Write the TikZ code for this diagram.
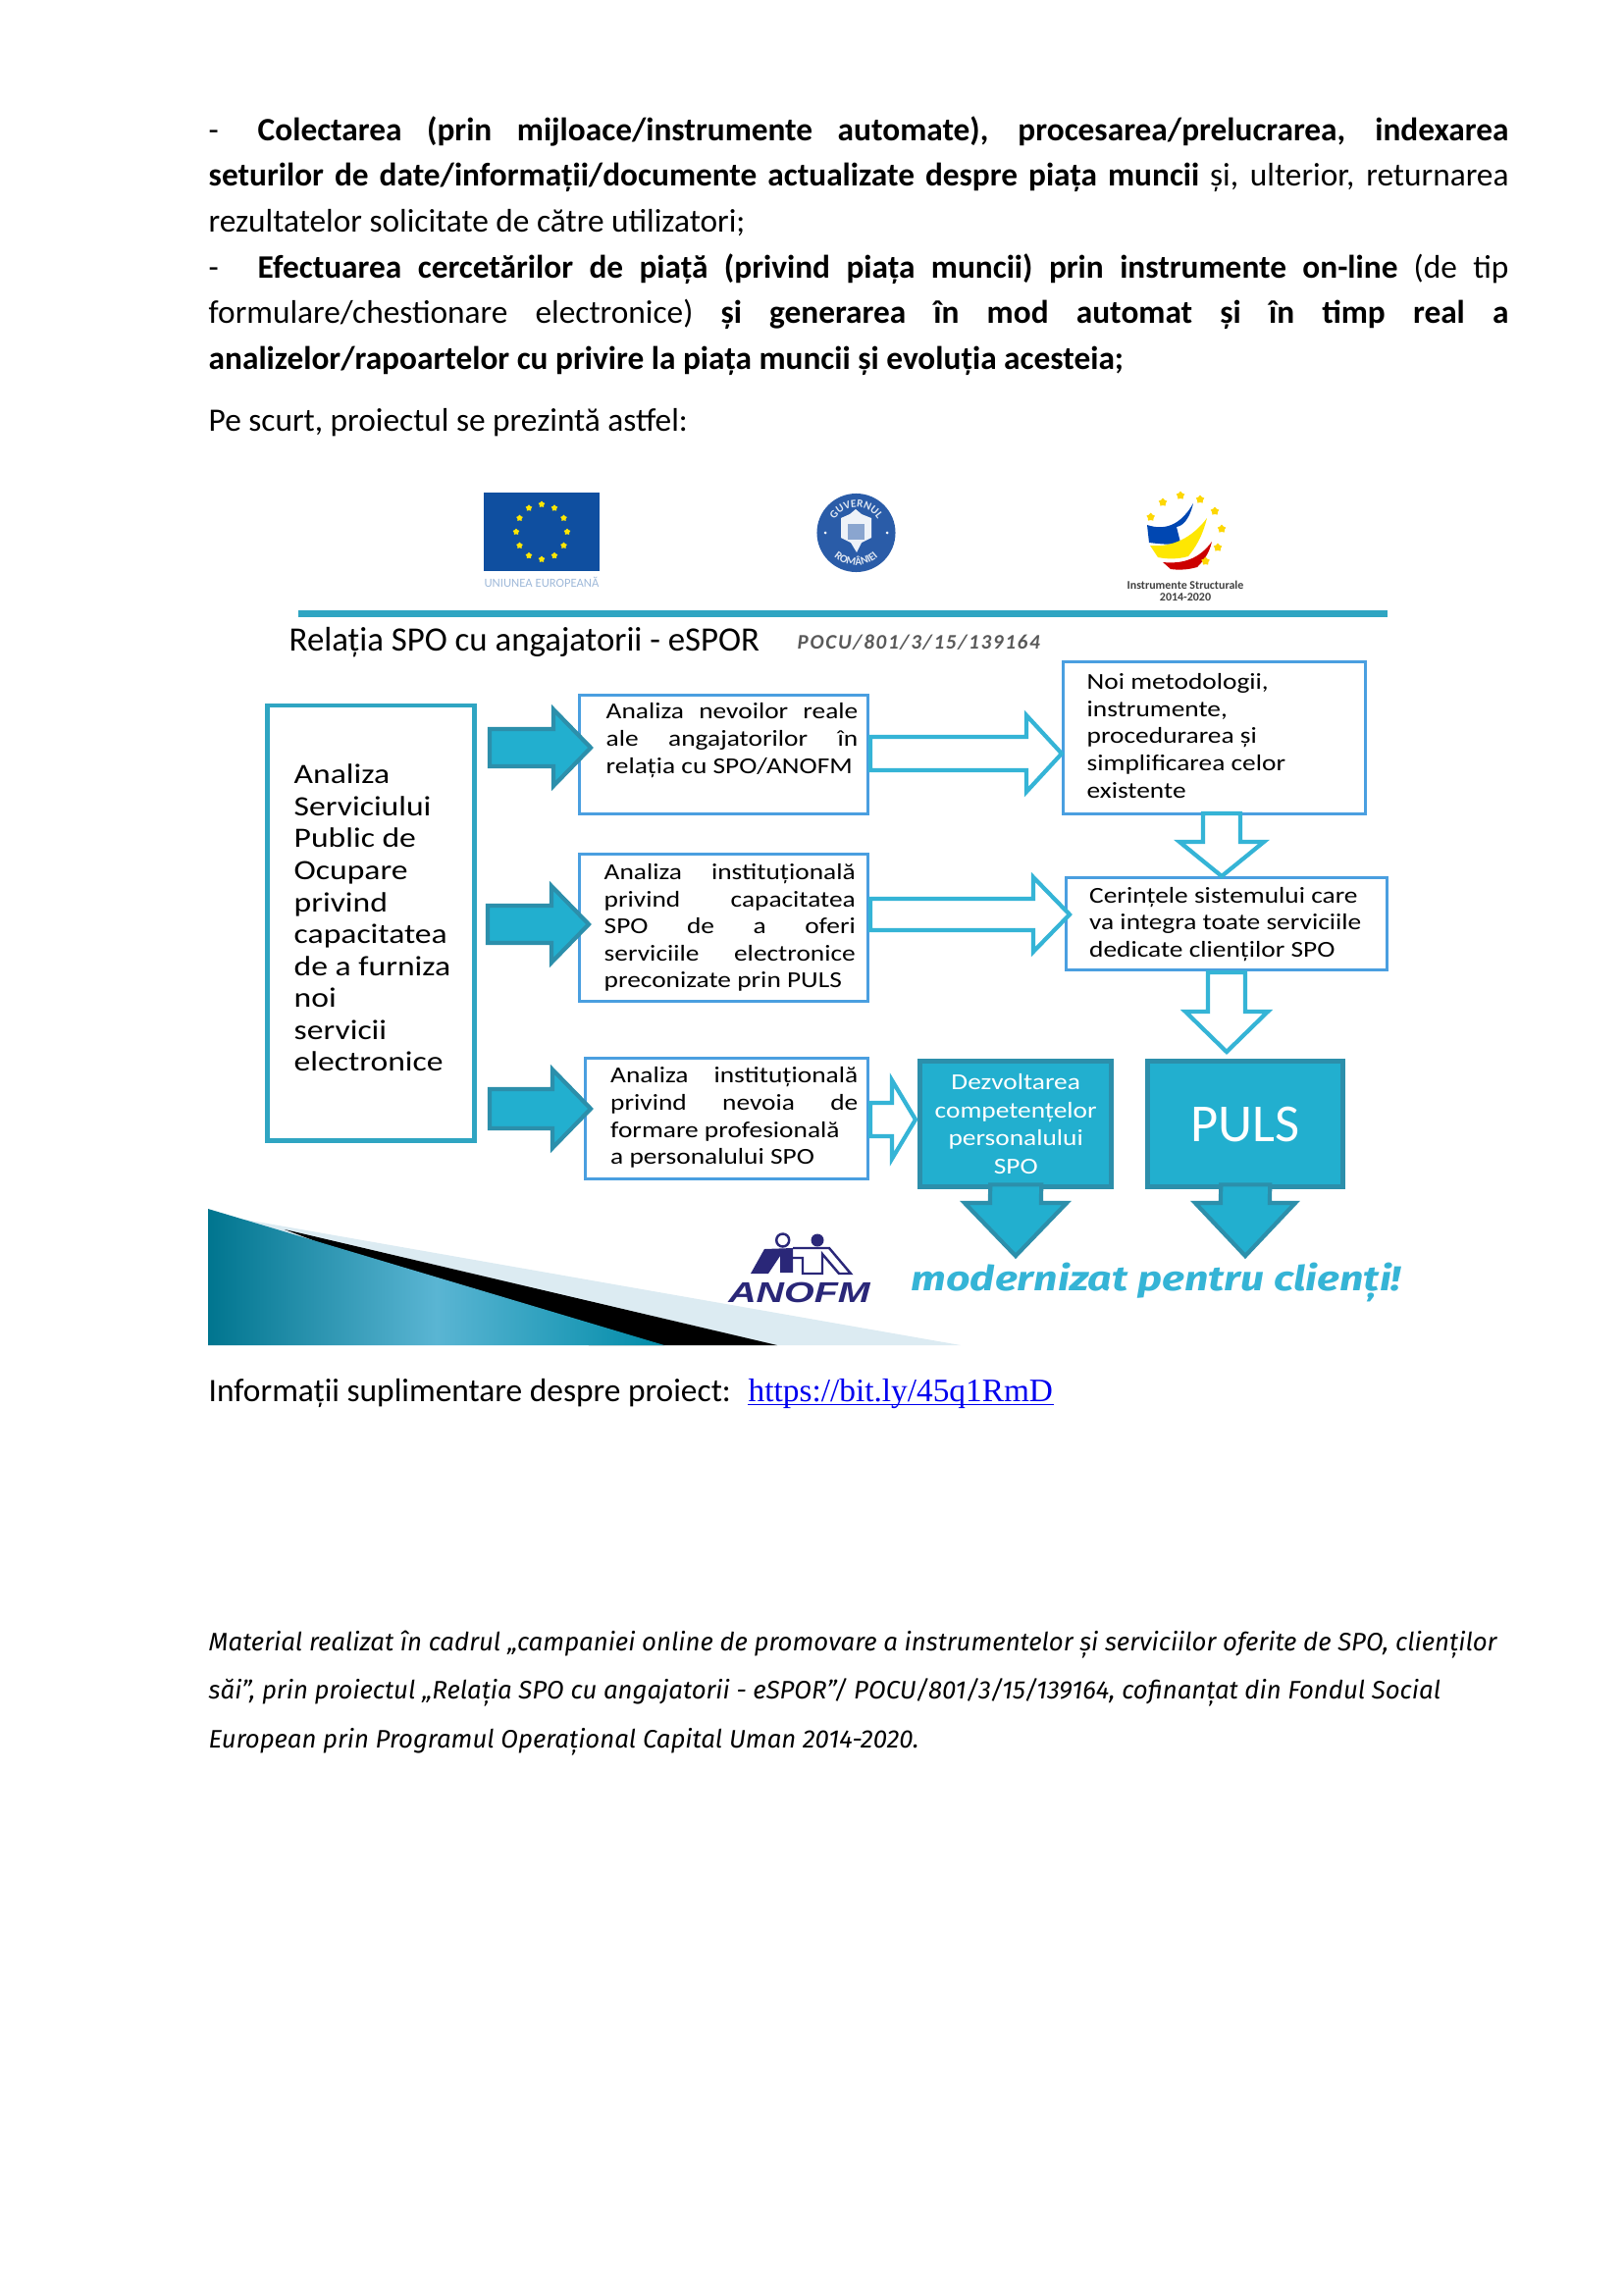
\documentclass[tikz,border=0pt]{standalone}
\usepackage{fontspec}
\setmainfont{Carlito}
\newfontfamily\widefont[FakeStretch=1.18]{Carlito}
\newfontfamily\linkfont{Liberation Serif}
\newfontfamily\logofont{Liberation Sans}
\newfontfamily\footfont{Fira Sans}
\newfontfamily\sloganfont[FakeStretch=1.22]{Fira Sans}
\usetikzlibrary{calc,shapes.geometric,decorations.text}

\definecolor{ruleteal}{HTML}{2FA5C2}
\definecolor{fillteal}{HTML}{22AFCF}
\definecolor{edgeteal}{HTML}{2C8FAB}
\definecolor{hollowteal}{HTML}{35B4D6}
\definecolor{boxblue}{HTML}{4A9FE0}
\definecolor{eublue}{HTML}{0F4FA0}
\definecolor{sealblue}{HTML}{2A5CA8}
\definecolor{anofmblue}{HTML}{2A2778}
\definecolor{paleblue}{HTML}{DCEBF2}
\definecolor{linkblue}{HTML}{0000EE}
\definecolor{gradleft}{HTML}{00758F}
\definecolor{gradmid}{HTML}{5AB5D3}
\definecolor{gradright}{HTML}{008BA8}

\tikzset{
  bodytext/.style={inner sep=0pt, anchor=north west, font=\fontsize{9.48}{13.23}\selectfont},
  thinbox/.style={draw=boxblue, line width=0.85pt, fill=white, inner sep=0pt, anchor=north west},
  boxtext/.style={inner sep=0pt, anchor=west, align=justify, font=\widefont\fontsize{6.6}{7.85}\selectfont},
  solidbox/.style={draw=edgeteal, line width=1.5pt, fill=fillteal, text=white, inner sep=0pt, anchor=north west, align=center},
  solidarrow/.style={draw=edgeteal, line width=1.2pt, fill=fillteal, line join=miter},
  hollowarrow/.style={draw=hollowteal, line width=1.2pt, fill=white, line join=miter},
  eustar/.style={star, star points=5, fill=yellow!90!orange, inner sep=0pt, minimum size=0.07cm},
  logostar/.style={star, star points=5, fill=yellow!75!orange, inner sep=0pt, minimum size=0.09cm}
}

% sageata orizontala / verticala: stil, coada, varf, jumatate corp, jumatate cap, lungime cap
\newcommand{\blockh}[6]{\draw[#1] ($(#2)+(0,-#4)$) -- ($(#3)+(-#6,-#4)$) -- ($(#3)+(-#6,-#5)$) -- (#3)
  -- ($(#3)+(-#6,#5)$) -- ($(#3)+(-#6,#4)$) -- ($(#2)+(0,#4)$) -- cycle;}
\newcommand{\blockv}[6]{\draw[#1] ($(#2)+(-#4,0)$) -- ($(#3)+(-#4,-#6)$) -- ($(#3)+(-#5,-#6)$) -- (#3)
  -- ($(#3)+(#5,-#6)$) -- ($(#3)+(#4,-#6)$) -- ($(#2)+(#4,0)$) -- cycle;}

\begin{document}
\begin{tikzpicture}[x=0.01cm, y=-0.01cm]
    \useasboundingbox (0,0) rectangle (1654,2339);

    % 1. Textul de sus
    \node[bodytext, text width=13.24cm, align=justify] (intro) at (212,118) {%
      \makebox[0.5cm][l]{-}\textbf{Colectarea (prin mijloace/instrumente automate), procesarea/prelucrarea, indexarea}\linebreak
      \textbf{seturilor de date/informații/documente actualizate despre piața muncii} și, ulterior, returnarea\linebreak
      rezultatelor solicitate de către utilizatori;\\
      \makebox[0.5cm][l]{-}\textbf{Efectuarea cercetărilor de piață (privind piața muncii) prin instrumente on-line} (de tip\linebreak
      formulare/chestionare electronice) \textbf{și generarea în mod automat și în timp real a}\linebreak
      \textbf{analizelor/rapoartelor cu privire la piața muncii și evoluția acesteia;}};
    \node[bodytext] (pescurt) at (212,416) {Pe scurt, proiectul se prezintă astfel:};

    % 2. Logo-uri
    \node[fill=eublue, inner sep=0pt, minimum width=1.18cm, minimum height=0.8cm] (flag) at (552,542) {};
    \foreach \i in {1,...,12}
        \node[eustar] (flagstar\i) at ($(flag)+(\i*30:26 and 28)$) {};
    \node[inner sep=0pt, text=eublue!40, font=\fontsize{3.6}{4}\selectfont] (eulabel) at (552,593) {UNIUNEA EUROPEANĂ};

    \node[circle, fill=sealblue, inner sep=0pt, minimum size=0.8cm] (seal) at (872.5,543) {};
    \path[decorate, decoration={text along path, text align=center, text color=white!85!sealblue,
        text={|\bfseries\fontsize{3.2}{3.4}\selectfont|GUVERNUL}}] ($(seal)+(-26,0)$) arc (180:360:26);
    \path[decorate, decoration={text along path, text align=center, text color=white!85!sealblue,
        text={|\bfseries\fontsize{3.2}{3.4}\selectfont|ROMÂNIEI}}] ($(seal)+(-33,0)$) arc (180:0:33);
    \fill[white!92!sealblue] (857,528) -- (866,524) -- (872,519) -- (878,524) -- (888,528) -- (888,548)
        -- (878,553) -- (873,563) -- (867,553) -- (857,548) -- cycle;
    \fill[sealblue!55] (864,534) rectangle (881,550);
    \fill[white] (841,543) circle (1.5) (904,543) circle (1.5);

    \fill[blue!60!cyan!70!black] (1169,535) .. controls (1190,542) and (1205,532) .. (1216,513)
        .. controls (1212,530) and (1205,536) .. (1199,537) -- (1203,553) .. controls (1192,556) and (1180,554) .. (1171,553) -- cycle;
    \fill[yellow!90!orange] (1172,556) .. controls (1195,558) and (1215,548) .. (1230,528)
        .. controls (1225,548) and (1218,558) .. (1211,567) .. controls (1200,570) and (1190,570) .. (1180,568) -- cycle;
    \fill[red!80!black] (1185,573) .. controls (1205,575) and (1222,570) .. (1235,552)
        .. controls (1232,565) and (1226,572) .. (1220,578) .. controls (1210,581) and (1200,581) .. (1193,580) -- cycle;
    \foreach \i/\sx/\sy in {1/1172.7/527, 2/1185/512, 3/1203/505, 4/1223/509, 5/1238/521, 6/1245/539, 7/1241/558, 8/1228.5/572}
        \node[logostar] (logostar\i) at (\sx,\sy) {};
    \node[inner sep=0pt, align=center, text=black!75, font=\bfseries\fontsize{3.4}{3.5}\selectfont] (islabel) at (1208,602) {Instrumente Structurale\\2014-2020};

    % 3. Linia si titlul
    \fill[ruleteal] (304,622) rectangle (1414,629);
    \node[inner sep=0pt, anchor=west, font=\fontsize{9.9}{11}\selectfont] (title) at (294,655) {Relația SPO cu angajatorii - eSPOR};
    \node[inner sep=0pt, anchor=west, text=black!65, font=\bfseries\itshape\fontsize{6}{7}\selectfont] (pocu) at (812,655) {\addfontfeature{LetterSpace=8}POCU/801/3/15/139164};

    % 4. Casetele
    \node[draw=ruleteal, line width=1.4pt, fill=white, inner sep=0pt, anchor=north west, minimum width=2.11cm, minimum height=4.435cm] (spobox) at (270,716.5) {};
    \node[inner sep=0pt, anchor=west, align=left, font=\widefont\fontsize{8.1}{9.25}\selectfont] (spotext) at (299,935.5) {Analiza\\Serviciului\\Public de\\Ocupare\\privind\\capacitatea\\de a furniza\\noi\\servicii\\electronice};

    \node[thinbox, minimum width=2.94cm, minimum height=1.21cm] (needbox) at (589,707) {};
    \node[boxtext, text width=2.565cm] (needtext) at (617,754.5) {Analiza nevoilor reale\linebreak ale angajatorilor în\linebreak relația cu SPO/ANOFM};
    \node[thinbox, minimum width=2.94cm, minimum height=1.50cm] (instbox) at (589,869) {};
    \node[boxtext, text width=2.56cm] (insttext) at (615,945.5) {Analiza instituțională\linebreak privind capacitatea\linebreak SPO de a oferi\linebreak serviciile electronice\linebreak preconizate prin PULS};
    \node[thinbox, minimum width=2.88cm, minimum height=1.23cm] (trainbox) at (595,1077) {};
    \node[boxtext, text width=2.52cm] (traintext) at (621.5,1139) {Analiza instituțională\linebreak privind nevoia de\linebreak formare profesională\\a personalului SPO};
    \node[thinbox, minimum width=3.08cm, minimum height=1.55cm] (methodbox) at (1082,673) {};
    \node[boxtext, align=left] (methodtext) at (1107,750) {Noi metodologii,\\instrumente,\\procedurarea și\\simplificarea celor\\existente};
    \node[thinbox, minimum width=3.27cm, minimum height=0.94cm] (reqbox) at (1085,893) {};
    \node[boxtext, align=left] (reqtext) at (1109.5,942) {Cerințele sistemului care\\va integra toate serviciile\\dedicate clienților SPO};

    \node[solidbox, minimum width=1.95cm, minimum height=1.28cm, font=\widefont\fontsize{6.6}{8.1}\selectfont] (devbox) at (935,1079) {Dezvoltarea\\competențelor\\personalului\\SPO};
    \node[solidbox, minimum width=1.99cm, minimum height=1.28cm, font=\fontsize{15.5}{16}\selectfont] (pulsbox) at (1167,1079) {PULS};

    % 5. Sagetile
    \coordinate (arrowAtail) at (499,762);   \coordinate (arrowAtip) at (602,762);
    \coordinate (arrowBtail) at (497,942);   \coordinate (arrowBtip) at (600,942);
    \coordinate (arrowCtail) at (499,1130);  \coordinate (arrowCtip) at (602,1130);
    \blockh{solidarrow}{arrowAtail}{arrowAtip}{19}{39}{38}
    \blockh{solidarrow}{arrowBtail}{arrowBtip}{19}{39}{38}
    \blockh{solidarrow}{arrowCtail}{arrowCtip}{20}{40}{39}

    \coordinate (hollowAtail) at (887,768);  \coordinate (hollowAtip) at (1082,768);
    \coordinate (hollowBtail) at (887,932);  \coordinate (hollowBtip) at (1090,932);
    \coordinate (hollowCtail) at (887,1141); \coordinate (hollowCtip) at (933,1141);
    \blockh{hollowarrow}{hollowAtail}{hollowAtip}{17}{39}{36}
    \blockh{hollowarrow}{hollowBtail}{hollowBtip}{16}{38}{37}
    \blockh{hollowarrow}{hollowCtail}{hollowCtip}{17}{40}{24}

    \coordinate (downAtop) at (1245,829);    \coordinate (downAtip) at (1245,893);
    \coordinate (downBtop) at (1250,991);    \coordinate (downBtip) at (1250,1072);
    \blockv{hollowarrow}{downAtop}{downAtip}{19}{43}{35}
    \blockv{hollowarrow}{downBtop}{downBtip}{19}{42}{41}

    \coordinate (devtip) at (1035,1280);
    \coordinate (pulstip) at (1269,1280);
    \blockv{solidarrow}{$(devbox.south)+(0,-5)$}{devtip}{26}{52}{54}
    \blockv{solidarrow}{$(pulsbox.south)+(0,-5)$}{pulstip}{25}{51}{54}

    % 6. Triunghiurile de jos
    \fill[paleblue] (250,1243) -- (979,1371) -- (212,1371) -- cycle;
    \fill[black] (290,1253) -- (792,1371) -- (600,1371) -- cycle;
    \shade[left color=gradleft, right color=gradright, middle color=gradmid]
        (212,1232) -- (677,1371) -- (212,1371) -- cycle;

    % 7. Logo ANOFM si slogan
    \draw[anofmblue, line width=0.7pt] (797.7,1264) circle (6.5);
    \fill[anofmblue] (833,1264) circle (6.5);
    \fill[anofmblue] (765,1298) -- (779,1273) -- (808,1272) -- (808,1297) -- (795,1297) -- (795,1280) -- (783,1298) -- cycle;
    \draw[anofmblue, line width=0.7pt] (808,1272) -- (845,1272) -- (867,1298) -- (855,1298) -- (838,1278) -- (838,1298) -- (818,1298) -- (818,1282) -- (808,1282);
    \node[inner sep=0pt, text=anofmblue, font=\logofont\bfseries\itshape\fontsize{8.3}{9}\selectfont] (anofm) at (814.5,1317.5) {\scalebox{1.35}[1]{ANOFM}};
    \node[inner sep=0pt, anchor=west, text=hollowteal, font=\sloganfont\bfseries\itshape\fontsize{10}{11}\selectfont] (slogan) at (928,1307) {modernizat pentru clienți!};

    % 8. Linkul si nota
    \node[inner sep=0pt, anchor=base west, font=\fontsize{9.5}{13}\selectfont] (moreinfo) at (212,1428) {Informații suplimentare despre proiect:};
    \node[inner sep=0pt, anchor=base west, text=linkblue, font=\linkfont\fontsize{9.48}{13}\selectfont] (link) at (762,1428) {https://bit.ly/45q1RmD};
    \draw[linkblue, line width=0.5pt] ($(link.base west)+(0,3.5)$) -- ($(link.base east)+(0,3.5)$);
    \node[inner sep=0pt, anchor=north west, align=left, font=\footfont\itshape\fontsize{7.33}{14.1}\selectfont] (footnote) at (212,1661) {Material realizat în cadrul „campaniei online de promovare a instrumentelor și serviciilor oferite de SPO, clienților\\
      săi”, prin proiectul „Relația SPO cu angajatorii - eSPOR”/ POCU/801/3/15/139164, cofinanțat din Fondul Social\\
      European prin Programul Operațional Capital Uman 2014-2020.};
\end{tikzpicture}
\end{document}
